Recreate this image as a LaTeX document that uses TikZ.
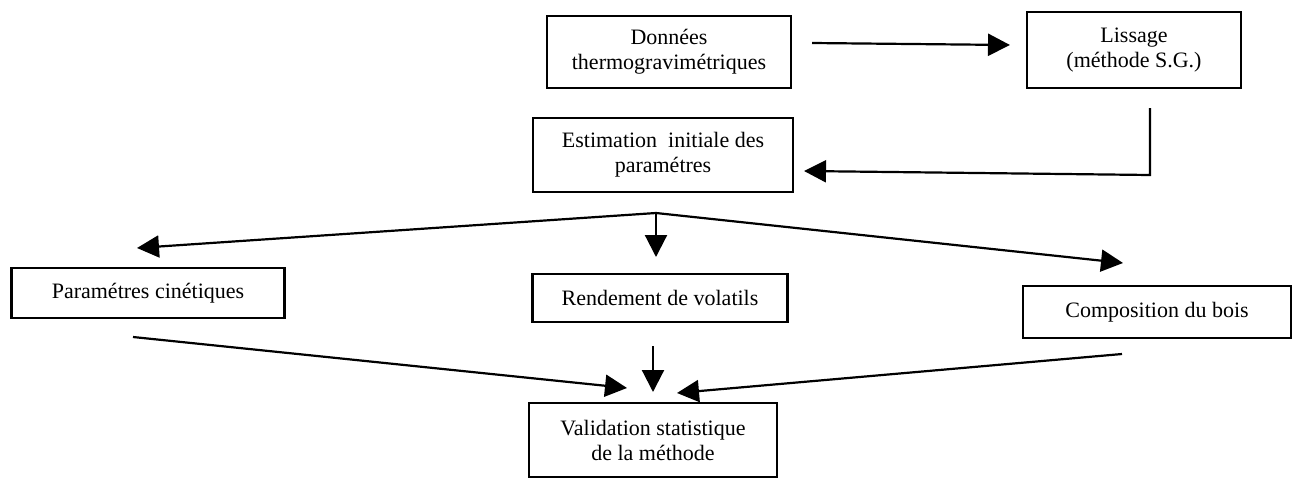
\documentclass[tikz,border=0pt]{standalone}
\usepackage{fontspec}
\setmainfont{Liberation Serif}
\usetikzlibrary{arrows.meta}
\begin{document}
\begin{tikzpicture}[x=1pt,y=-1pt,
  box/.style={draw,line width=2.2pt,inner sep=0pt,align=center,
    font=\fontsize{22}{25}\selectfont},
  arr/.style={line width=2.2pt,-{Triangle[length=22pt,width=22pt]}},
  ln/.style={line width=2.2pt}]
\useasboundingbox (0,0) rectangle (1293,479);
% boxes
\node[box,minimum width=244pt,minimum height=72pt] (don) at (669,52) {Données\\thermogravimétriques};
\node[box,minimum width=214pt,minimum height=76pt] (lis) at (1134,50) {Lissage\\(méthode S.G.)};
\node[box,minimum width=260pt,minimum height=74pt] (est) at (663,155) {Estimation~ initiale des\\paramétres};
\node[box,minimum width=273pt,minimum height=50pt] (par) at (148,293) {Paramétres cinétiques};
\node[box,minimum width=255pt,minimum height=48pt] (ren) at (660,298) {Rendement de volatils};
\node[box,minimum width=268pt,minimum height=52pt] (com) at (1157,312) {Composition du bois};
\node[box,minimum width=248pt,minimum height=74pt] (val) at (653,440) {Validation statistique\\de la méthode};
% connector end points
\coordinate (donOut) at (812,43);
\coordinate (lisIn) at (1010,45);
\coordinate (lisOut) at (1150,108);
\coordinate (lisCorner) at (1150,175);
\coordinate (estIn) at (804,171);
\coordinate (br) at (656,213);
\coordinate (parIn) at (137,248);
\coordinate (renIn) at (656,257);
\coordinate (comIn) at (1123,263);
\coordinate (parOut) at (133,337);
\coordinate (valInL) at (627,388);
\coordinate (renOut) at (653,346);
\coordinate (valInM) at (653,392);
\coordinate (comOut) at (1122,354);
\coordinate (valInR) at (677,393);
% connectors
\draw[arr] (donOut) -- (lisIn);
\draw[arr] (lisOut) -- (lisCorner) -- (estIn);
\draw[arr] (br) -- (parIn);
\draw[arr] (br) -- (renIn);
\draw[arr] (br) -- (comIn);
\draw[arr] (parOut) -- (valInL);
\draw[arr] (renOut) -- (valInM);
\draw[arr] (comOut) -- (valInR);
\end{tikzpicture}
\end{document}
